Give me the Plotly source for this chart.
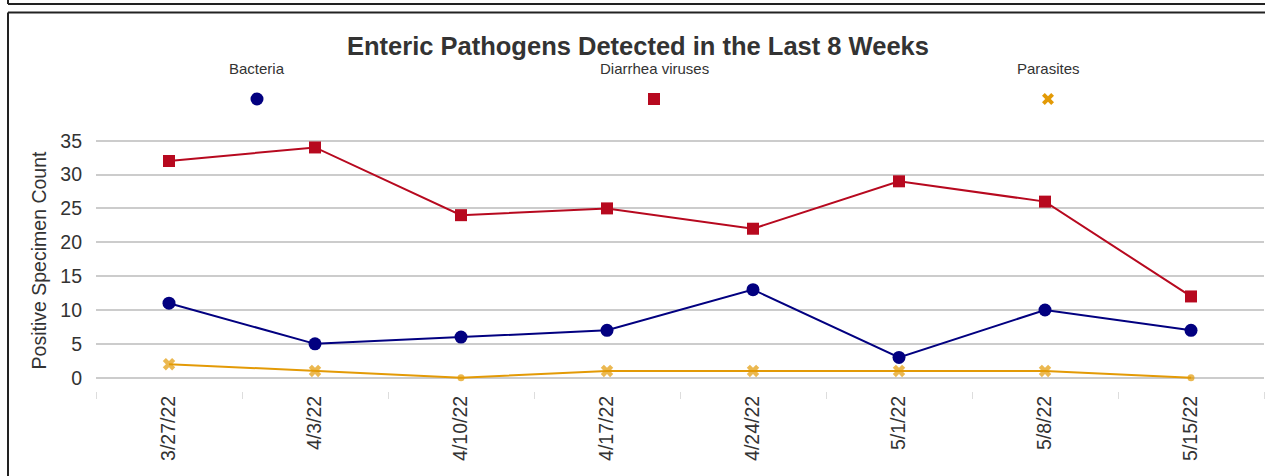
import plotly.graph_objects as go

weeks = ["3/27/22", "4/3/22", "4/10/22", "4/17/22", "4/24/22", "5/1/22", "5/8/22", "5/15/22"]
bacteria = [11, 5, 6, 7, 13, 3, 10, 7]
diarrhea_viruses = [32, 34, 24, 25, 22, 29, 26, 12]
parasites = [2, 1, 0, 1, 1, 1, 1, 0]

title_text = "Enteric Pathogens Detected in the Last 8 Weeks"
y_title = "Positive Specimen Count"

NAVY = "#020080"
RED = "#B7091F"
ORANGE = "#E39A06"
TXT = "#333333"
FONT = "Liberation Sans, Arial, sans-serif"

W, H = 1265, 476
L, R, T, B = 96, 1, 130, 85
PW, PH = W - L - R, H - T - B


def px(x):
    return (x - L) / PW


def py(y):
    return (H - B - y) / PH


fig = go.Figure()

fig.add_trace(go.Scatter(
    x=weeks, y=bacteria, mode="lines+markers", name="Bacteria",
    line=dict(color=NAVY, width=2),
    marker=dict(symbol="circle", size=13, color=NAVY),
    cliponaxis=False, showlegend=False))

fig.add_trace(go.Scatter(
    x=weeks, y=diarrhea_viruses, mode="lines+markers", name="Diarrhea viruses",
    line=dict(color=RED, width=2),
    marker=dict(symbol="square", size=12, color=RED),
    cliponaxis=False, showlegend=False))

par_symbols = ["circle" if v == 0 else "x" for v in parasites]
par_sizes = [7 if v == 0 else 11 for v in parasites]
fig.add_trace(go.Scatter(
    x=weeks, y=parasites, mode="lines+markers", name="Parasites",
    line=dict(color=ORANGE, width=2),
    marker=dict(symbol=par_symbols, size=par_sizes, color=ORANGE, line=dict(width=0)),
    cliponaxis=False, showlegend=False))

# custom legend (label above marker)
leg_names = ["Bacteria", "Diarrhea viruses", "Parasites"]
leg_x = [257, 654, 1048]
leg_col = [NAVY, RED, ORANGE]
leg_y = 99

annotations = []
for name, x in zip(leg_names, leg_x):
    annotations.append(dict(
        x=px(x), y=py(68.5), xref="paper", yref="paper", text=name, showarrow=False,
        font=dict(family=FONT, size=15, color=TXT), xanchor="center", yanchor="middle"))
annotations.append(dict(
    x=px(637.5), y=py(46), xref="paper", yref="paper", text="<b>" + title_text + "</b>",
    showarrow=False, font=dict(family=FONT, size=25.5, color=TXT),
    xanchor="center", yanchor="middle"))

line_col = "#222222"
shapes = [
    dict(type="line", xref="paper", yref="paper", x0=px(8), x1=px(1266), y0=py(4), y1=py(4),
         line=dict(color=line_col, width=2)),
    dict(type="line", xref="paper", yref="paper", x0=px(8), x1=px(8), y0=py(-2), y1=py(4),
         line=dict(color=line_col, width=2)),
    dict(type="line", xref="paper", yref="paper", x0=px(8), x1=px(1266), y0=py(12.5), y1=py(12.5),
         line=dict(color=line_col, width=2)),
    dict(type="line", xref="paper", yref="paper", x0=px(8), x1=px(8), y0=py(12.5), y1=py(478),
         line=dict(color=line_col, width=2)),
    # legend markers
    dict(type="circle", xref="paper", yref="paper", xsizemode="pixel", ysizemode="pixel",
         xanchor=px(leg_x[0]), yanchor=py(leg_y), x0=-6.5, x1=6.5, y0=-6.5, y1=6.5,
         fillcolor=leg_col[0], line=dict(width=0)),
    dict(type="rect", xref="paper", yref="paper", xsizemode="pixel", ysizemode="pixel",
         xanchor=px(leg_x[1]), yanchor=py(leg_y), x0=-6, x1=6, y0=-6, y1=6,
         fillcolor=leg_col[1], line=dict(width=0)),
    dict(type="path", xref="paper", yref="paper", xsizemode="pixel", ysizemode="pixel",
         xanchor=px(leg_x[2]), yanchor=py(leg_y),
         path="M-6,-3.2 L-3.2,-6 L0,-2.8 L3.2,-6 L6,-3.2 L2.8,0 L6,3.2 L3.2,6 L0,2.8 L-3.2,6 L-6,3.2 L-2.8,0 Z",
         fillcolor=leg_col[2], line=dict(width=0)),
]

ppu = 33.86 / 5.0
y0_px = 377.7
ymin = -((H - B) - y0_px) / ppu
ymax = (y0_px - T) / ppu

fig.update_layout(
    width=W, height=H,
    margin=dict(l=L, r=R, t=T, b=B, pad=0),
    paper_bgcolor="white", plot_bgcolor="white",
    font=dict(family=FONT, color=TXT),
    annotations=annotations, shapes=shapes,
    xaxis=dict(
        type="category", categoryorder="array", categoryarray=weeks,
        range=[-0.5, len(weeks) - 0.5],
        tickson="boundaries", ticks="outside", ticklen=7, tickwidth=1, tickcolor="#dddddd",
        tickangle=-90, tickfont=dict(family=FONT, size=19.5, color=TXT),
        showgrid=False, showline=False, zeroline=False,
    ),
    yaxis=dict(
        range=[ymin, ymax], tickmode="array", tickvals=[0, 5, 10, 15, 20, 25, 30, 35],
        showgrid=True, gridcolor="#cccccc", gridwidth=1.5, zeroline=False, showline=False,
        tickfont=dict(family=FONT, size=19.5, color=TXT), ticks="", ticklabelstandoff=13,
        title=dict(text=y_title, font=dict(family=FONT, size=19.5, color=TXT), standoff=8),
    ),
)

fig.write_html("out.html", config={"displayModeBar": False},
               post_script="document.body.style.margin='0px';")
